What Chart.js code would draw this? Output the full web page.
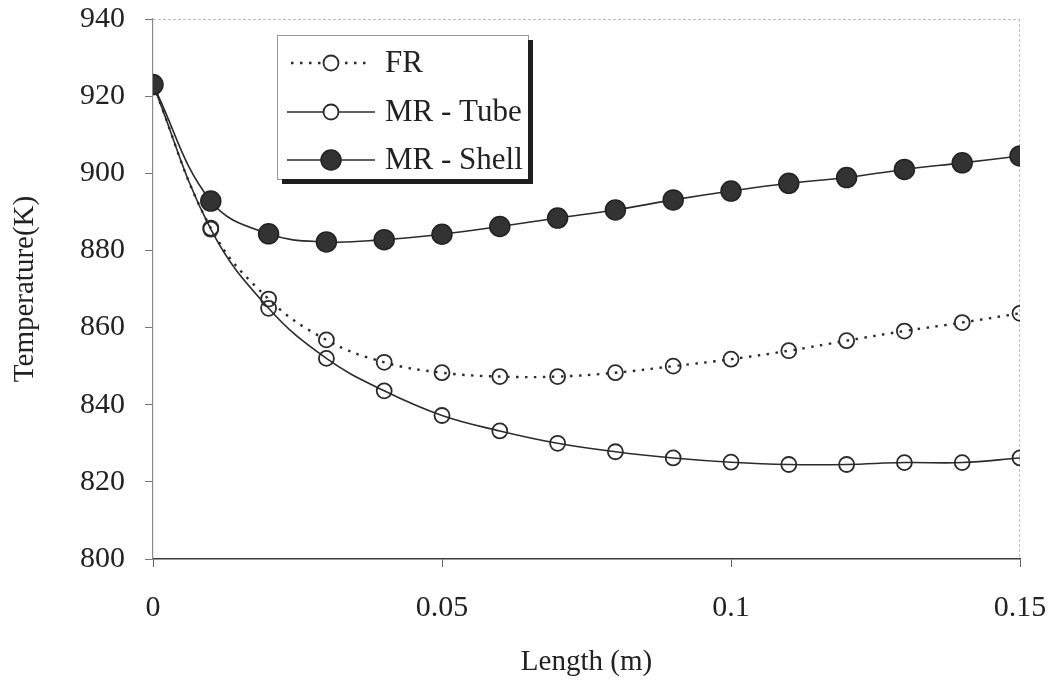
<!DOCTYPE html>
<html>
<head>
<meta charset="utf-8">
<script src="https://cdn.jsdelivr.net/npm/chart.js@4/dist/chart.umd.min.js"></script>
<style>
  html, body { margin: 0; padding: 0; background: #fff; }
  #wrap { width: 1059px; height: 684px; }
</style>
</head>
<body>
<div id="wrap"><canvas id="tempChart" width="1059" height="684"></canvas></div>
<script>
// reactor length (m)
const lengths = [0, 0.01, 0.02, 0.03, 0.04, 0.05, 0.06, 0.07, 0.08, 0.09, 0.10, 0.11, 0.12, 0.13, 0.14, 0.15];

// temperature (K)
const frTemp      = [923, 885.8, 867.4, 856.8, 851.0, 848.3, 847.3, 847.3, 848.3, 850.0, 851.8, 854.0, 856.6, 859.1, 861.3, 863.7];
const tubeTemp    = [923, 885.5, 865.0, 852.0, 843.6, 837.2, 833.2, 830.0, 827.8, 826.2, 825.1, 824.5, 824.5, 825.0, 825.0, 826.2];
const shellTemp   = [923, 892.8, 884.3, 882.2, 882.8, 884.2, 886.2, 888.4, 890.5, 893.1, 895.4, 897.4, 898.9, 901.0, 902.7, 904.5];

const xTicks = [0, 0.05, 0.1, 0.15];
const yTicks = [800, 820, 840, 860, 880, 900, 920, 940];

const INK = '#2b2b2b';
const SERIF = '"Liberation Serif", "DejaVu Serif", serif';

const toXY = (ys) => lengths.map((x, i) => ({ x, y: ys[i] }));

// light frame on top / right like the scanned figure
const framePlugin = {
    id: 'frame',
    beforeDatasetsDraw(chart) {
        const { ctx, chartArea: a } = chart;
        ctx.save();
        ctx.strokeStyle = '#bdbdbd';
        ctx.lineWidth = 1;
        ctx.setLineDash([3, 2]);
        ctx.beginPath();
        ctx.moveTo(a.left, a.top + 0.5);
        ctx.lineTo(a.right, a.top + 0.5);
        ctx.moveTo(a.right - 0.5, a.top);
        ctx.lineTo(a.right - 0.5, a.bottom);
        ctx.stroke();
        ctx.restore();
    }
};

// boxed legend with drop shadow, line + marker samples
const legendPlugin = {
    id: 'boxLegend',
    afterDraw(chart) {
        const { ctx } = chart;
        const box = { x: 277, y: 35, w: 251, h: 144 };
        ctx.save();
        ctx.fillStyle = '#fff';
        ctx.fillRect(box.x, box.y, box.w, box.h);
        ctx.strokeStyle = '#999';
        ctx.lineWidth = 1;
        ctx.strokeRect(box.x + 0.5, box.y + 0.5, box.w, box.h);
        ctx.fillStyle = '#1e1e1e';
        ctx.fillRect(box.x + box.w, box.y + 5, 5, box.h);
        ctx.fillRect(box.x + 5, box.y + box.h, box.w, 5);

        const order = [2, 1, 0];
        const rowY = [63, 112, 160];
        order.forEach((di, r) => {
            const ds = chart.data.datasets[di];
            const y = rowY[r];
            ctx.strokeStyle = ds.borderColor;
            ctx.lineWidth = ds.borderWidth;
            ctx.setLineDash(ds.borderDash || []);
            ctx.beginPath();
            ctx.moveTo(ds.borderDash ? 291 : 287, y);
            ctx.lineTo(ds.borderDash ? 370 : 375, y);
            ctx.stroke();
            ctx.setLineDash([]);
            ctx.beginPath();
            ctx.arc(331, y, ds.pointRadius, 0, Math.PI * 2);
            ctx.fillStyle = ds.pointBackgroundColor === 'transparent' ? '#fff' : ds.pointBackgroundColor;
            ctx.fill();
            ctx.lineWidth = ds.pointBorderWidth;
            ctx.strokeStyle = ds.pointBorderColor;
            ctx.stroke();
            ctx.fillStyle = '#222';
            ctx.font = '31px ' + SERIF;
            ctx.textBaseline = 'middle';
            ctx.fillText(ds.label, 385, y + 1);
        });
        ctx.restore();
    }
};

new Chart(document.getElementById('tempChart'), {
    type: 'line',
    data: {
        datasets: [
            {
                label: 'MR - Shell',
                data: toXY(shellTemp),
                borderColor: INK, borderWidth: 1.6,
                pointRadius: 10, pointBackgroundColor: '#333', pointBorderColor: '#222', pointBorderWidth: 1.5,
                tension: 0.4, fill: false
            },
            {
                label: 'MR - Tube',
                data: toXY(tubeTemp),
                borderColor: INK, borderWidth: 1.6,
                pointRadius: 7.5, pointBackgroundColor: 'transparent', pointBorderColor: INK, pointBorderWidth: 1.8,
                tension: 0.4, fill: false
            },
            {
                label: 'FR',
                data: toXY(frTemp),
                borderColor: INK, borderWidth: 2.4, borderDash: [2.5, 6.5],
                pointRadius: 7.5, pointBackgroundColor: 'transparent', pointBorderColor: INK, pointBorderWidth: 1.8,
                tension: 0.4, fill: false
            }
        ]
    },
    options: {
        responsive: false,
        animation: false,
        events: [],
        layout: { padding: { left: 0, top: 19, right: 39, bottom: 0 } },
        plugins: { legend: { display: false }, tooltip: { enabled: false } },
        scales: {
            x: {
                type: 'linear', min: 0, max: 0.15,
                afterBuildTicks: s => { s.ticks = xTicks.map(v => ({ value: v })); },
                afterFit: s => { s.height = 125; s.paddingLeft = 0; s.paddingRight = 0; },
                grid: { display: true, drawOnChartArea: false, tickLength: 8, color: '#666' },
                border: { color: '#3a3a3a', width: 1.5 },
                ticks: { color: '#222', padding: 23, maxRotation: 0, font: { family: SERIF, size: 30 }, callback: v => String(v) },
                title: { display: true, text: 'Length (m)', color: '#222', padding: { bottom: 4 }, font: { family: SERIF, size: 29 } }
            },
            y: {
                min: 800, max: 940,
                afterBuildTicks: s => { s.ticks = yTicks.map(v => ({ value: v })); },
                afterFit: s => { s.width = 153; s.paddingTop = 0; s.paddingBottom = 0; },
                grid: { display: true, drawOnChartArea: false, tickLength: 8, color: '#777' },
                border: { color: '#8a8a8a', width: 1.2, dash: [4, 1] },
                ticks: { color: '#222', padding: 20, font: { family: SERIF, size: 30 } },
                title: { display: true, text: 'Temperature(K)', color: '#222', padding: { top: 8 }, font: { family: SERIF, size: 29 } }
            }
        }
    },
    plugins: [framePlugin, legendPlugin]
});
</script>
</body>
</html>
